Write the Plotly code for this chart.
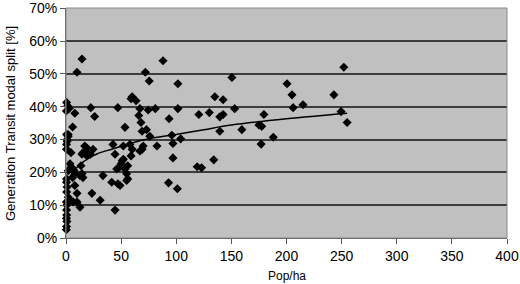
import plotly.graph_objects as go

# Population density (Pop/ha) and transit modal split (%)
pop_ha = [
    0.3, 0.5, 0.8, 0.4, 0.6, 0.5, 0.7, 0.4, 0.6, 1.0, 0.5, 0.5,
    0.5, 0.5, 1.0, 0.5, 2.0, 1.0, 0.5, 1.5, 0.3, 3.0,
    8, 6, 2, 10, 14.5, 22.5, 26, 47, 53.5,
    17, 19, 21, 22, 19, 24.5, 15.4, 14.5, 4.5,
    3.6, 5.5, 7, 8, 2, 4.5, 13.6, 6, 15.4, 12.7, 14.5,
    8, 2, 3.6, 6.5, 10, 10, 12.7,
    23.5, 31, 33.5, 41.5, 44.5, 47, 49,
    42.6, 44.5, 46, 48, 50, 51, 52, 53.5, 55, 56, 55, 56,
    58, 59, 60, 69, 70, 67, 76, 82.5, 52,
    59, 60, 63.5, 67, 66, 68, 69, 72, 75.5, 88, 81, 74.5, 73, 93.5,
    101.5, 101.5, 96, 97, 104,
    97, 119, 123, 134, 93, 101,
    120.5, 130, 135, 142.5, 150.5, 153, 139.5, 142.5, 139.5, 159.5,
    175, 177.5, 179.5, 188, 177, 200.5, 205, 206, 215, 243, 249.5, 252, 255,
]
modal_split_pct = [
    2.5, 3.5, 5.0, 6.0, 7.0, 8.5, 10.0, 11.0, 14.0, 15.5, 17.0, 18.0,
    27.0, 28.5, 29.5, 31.5, 31.0, 30.0, 41.3, 40.2, 38.7, 39.5,
    38.0, 33.8, 31.5, 50.5, 54.5, 39.7, 37.0, 39.7, 33.7,
    28.0, 27.4, 26.5, 25.5, 25.0, 27.0, 26.0, 25.5, 26.0,
    22.6, 21.4, 20.7, 19.9, 20.5, 21.4, 22.0, 18.4, 18.4, 19.0, 19.6,
    16.0, 12.4, 11.5, 11.0, 11.0, 13.6, 9.4,
    13.6, 11.5, 19.0, 17.0, 8.5, 16.5, 16.0,
    28.5, 25.5, 21.0, 21.4, 22.6, 23.5, 24.0, 21.0, 19.6, 22.0, 17.5, 18.0,
    28.5, 25.0, 27.0, 27.0, 28.0, 26.5, 31.0, 28.0, 28.0,
    42.4, 43.0, 41.8, 39.4, 37.3, 35.2, 32.5, 50.5, 47.8, 54.0, 39.4, 39.0, 33.0, 36.3,
    47.0, 39.4, 31.3, 28.8, 30.2,
    24.4, 21.7, 21.4, 23.8, 16.8, 15.0,
    37.6, 38.2, 43.0, 42.1, 48.9, 39.4, 36.9, 37.6, 32.5, 33.0,
    34.4, 34.0, 37.6, 30.7, 28.6, 47.0, 43.6, 39.7, 40.6, 43.6, 38.5, 52.0, 35.2,
]

# Trendline
trend_x = [0.8, 2, 3.5, 5.4, 8, 12.7, 20, 28, 43, 58, 76, 97, 125, 150, 200, 255]
trend_y = [16.5, 17.6, 18.6, 19.6, 20.8, 22.4, 24.2, 25.6, 27.2, 28.8, 30.3, 31.4, 33.0, 34.4, 36.3, 38.0]

x_ticks = [0, 50, 100, 150, 200, 250, 300, 350, 400]
y_ticks = [0, 0.1, 0.2, 0.3, 0.4, 0.5, 0.6, 0.7]
y_tick_labels = ["0%", "10%", "20%", "30%", "40%", "50%", "60%", "70%"]

font = "Liberation Sans, Arial, sans-serif"

fig = go.Figure()
fig.add_trace(go.Scatter(
    x=pop_ha, y=[v / 100 for v in modal_split_pct], mode="markers",
    marker=dict(symbol="diamond", size=7, color="black"),
    showlegend=False, hoverinfo="skip", cliponaxis=False,
))
fig.add_trace(go.Scatter(
    x=trend_x, y=[v / 100 for v in trend_y], mode="lines",
    line=dict(color="black", width=1.5, shape="spline"),
    showlegend=False, hoverinfo="skip",
))

fig.update_layout(
    width=520, height=284,
    margin=dict(l=66, r=13, t=8, b=46),
    paper_bgcolor="white", plot_bgcolor="#C0C0C0",
    font=dict(family=font, size=14, color="black"),
    xaxis=dict(
        range=[0, 400], tickvals=x_ticks, ticks="outside", ticklen=5,
        tickcolor="#555555", showgrid=False, zeroline=False, automargin=False,
        showline=True, linecolor="#555555", linewidth=1,
        tickfont=dict(size=14), ticklabeloverflow="allow",
    ),
    yaxis=dict(
        range=[0, 0.7005], tickvals=y_ticks, ticktext=y_tick_labels,
        ticks="outside", ticklen=5, tickcolor="#555555", automargin=False,
        showgrid=True, gridcolor="#3c3c3c", gridwidth=2, zeroline=False,
        showline=True, linecolor="#555555", linewidth=1,
        tickfont=dict(size=14), ticklabeloverflow="allow",
    ),
    annotations=[
        dict(text="Pop/ha", xref="paper", yref="paper", x=0.5, y=-0.167,
             yanchor="middle", xanchor="center", showarrow=False,
             font=dict(size=12)),
        dict(text="Generation Transit modal split [%]", xref="paper", yref="paper",
             x=-0.127, y=0.5, xanchor="center", yanchor="middle", textangle=-90,
             showarrow=False, font=dict(size=13)),
    ],
    shapes=[dict(type="rect", xref="paper", yref="paper", x0=0, y0=0, x1=1, y1=1,
                 line=dict(color="#888888", width=1), layer="above")],
)

fig.write_html("out.html", config={"displayModeBar": False},
               post_script="document.body.style.margin='0px';document.body.style.overflow='hidden';")
